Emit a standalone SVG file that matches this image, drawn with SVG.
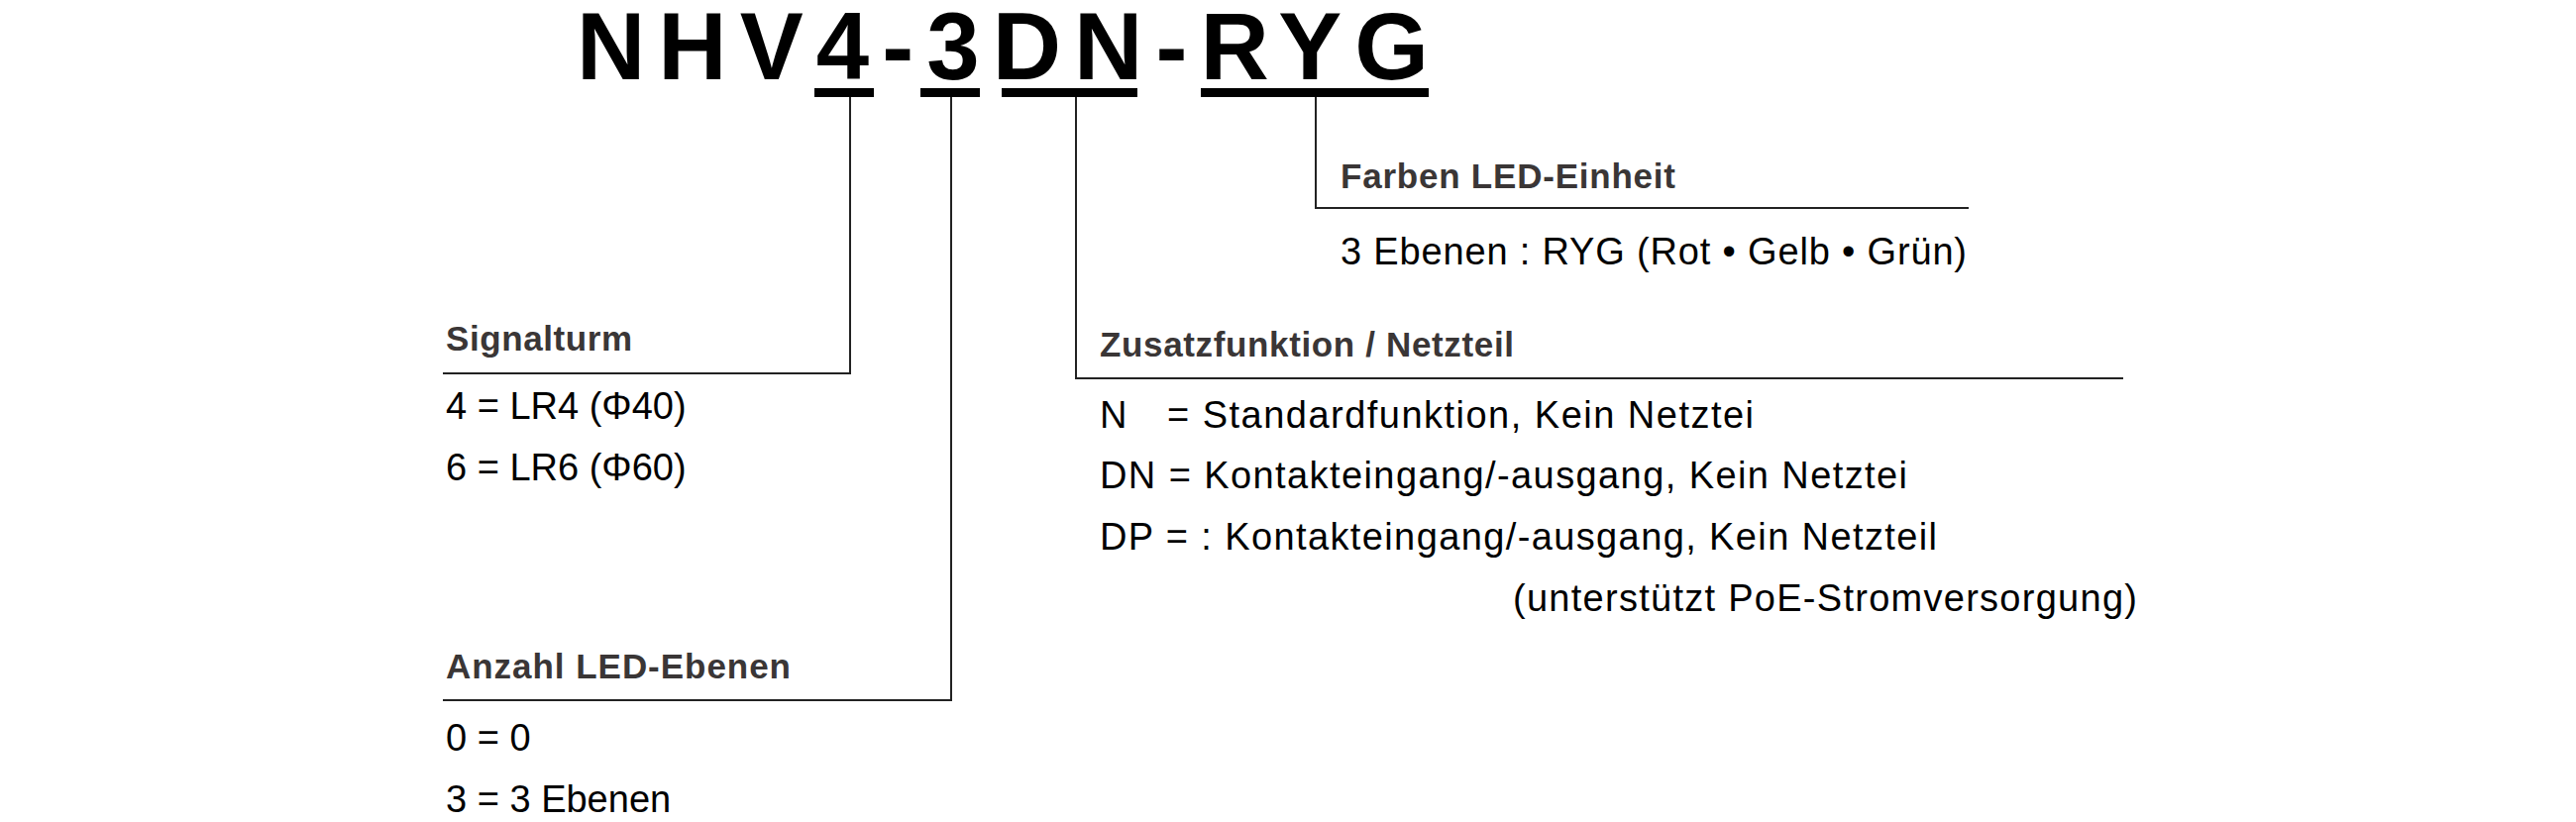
<svg xmlns="http://www.w3.org/2000/svg" width="2600" height="830" viewBox="0 0 2600 830">
<style>
.t{font-family:"Liberation Sans",Arial,sans-serif;font-size:38px;fill:#000}
.h{font-family:"Liberation Sans",Arial,sans-serif;font-size:35px;font-weight:bold;fill:#3a3636}
.ti{font-family:"Liberation Sans",Arial,sans-serif;font-size:96px;font-weight:bold;fill:#000}
.ln{stroke:#222;stroke-width:2;fill:none}
</style>
<rect width="2600" height="830" fill="#fff"/>
<g id="title">
<text class="ti" x="582" y="80" textLength="860" lengthAdjust="spacing">NHV4-3DN-RYG</text>
<rect x="822" y="89" width="60" height="9"/>
<rect x="929" y="89" width="60" height="9"/>
<rect x="1011" y="89" width="137" height="9"/>
<rect x="1212" y="89" width="230" height="9"/>
</g>
<g id="connectors">
<polyline class="ln" points="858,98 858,377 447,377"/>
<polyline class="ln" points="960,98 960,707 447,707"/>
<polyline class="ln" points="1086,98 1086,382 2143,382"/>
<polyline class="ln" points="1328,98 1328,210 1987,210"/>
</g>
<g id="farben">
<text class="h" x="1353" y="190" textLength="338">Farben LED-Einheit</text>
<text class="t" x="1353" y="267" textLength="632">3 Ebenen : RYG (Rot • Gelb • Grün)</text>
</g>
<g id="signalturm">
<text class="h" x="450" y="354" textLength="188">Signalturm</text>
<text class="t" x="450" y="423">4 = LR4 (Φ40)</text>
<text class="t" x="450" y="485">6 = LR6 (Φ60)</text>
</g>
<g id="anzahl">
<text class="h" x="450" y="685" textLength="348">Anzahl LED-Ebenen</text>
<text class="t" x="450" y="758">0 = 0</text>
<text class="t" x="450" y="820">3 = 3 Ebenen</text>
</g>
<g id="zusatz">
<text class="h" x="1110" y="360" textLength="418">Zusatzfunktion / Netzteil</text>
<text class="t" x="1110" y="432">N</text>
<text class="t" x="1178" y="432" textLength="592">= Standardfunktion, Kein Netztei</text>
<text class="t" x="1110" y="493" textLength="815">DN = Kontakteingang/-ausgang, Kein Netztei</text>
<text class="t" x="1110" y="555" textLength="845">DP = : Kontakteingang/-ausgang, Kein Netzteil</text>
<text class="t" x="1527" y="617" textLength="630">(unterstützt PoE-Stromversorgung)</text>
</g>
</svg>
